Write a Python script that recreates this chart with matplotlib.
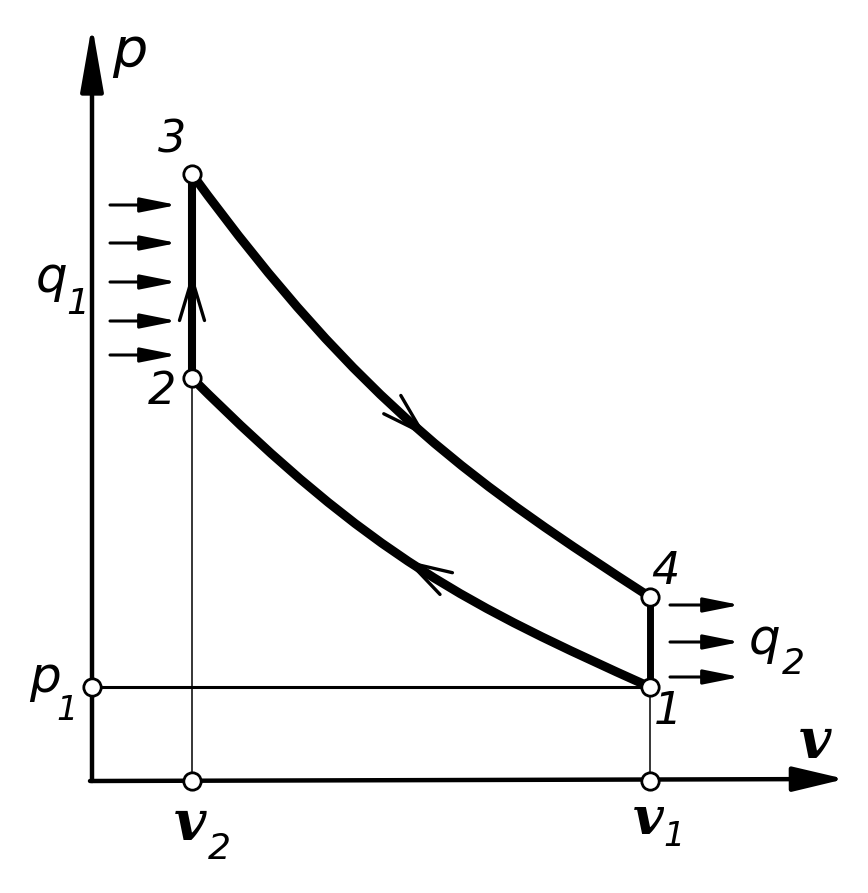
import matplotlib
matplotlib.use("Agg")
import matplotlib.pyplot as plt
from matplotlib.path import Path
from matplotlib.patches import PathPatch

# state points of the cycle (v, p), drawing units
v1 = 558
v2 = 100
p1 = 94
point_v = [v1, v2, v2, v1]
point_p = [94, 403, 607, 184]
point_names = ["1", "2", "3", "4"]

# expansion 3 -> 4 as a cubic curve: end, control, control, end
exp_v = [100, 270, 388, 558]
exp_p = [607, 374, 294, 184]

# compression 2 <- 1 as a cubic curve
comp_v = [100, 280, 378, 558]
comp_p = [403, 223, 175, 94]

# heat arrows
q1_p = [576, 538, 499, 460, 426]
q1_v = (18, 85)
q2_p = [176, 139, 104]
q2_v = (578, 648)

# direction arrows on the cycle: (tail, tip)
flow_arrows = [((305, 372), (335, 344)),
               ((348, 201), (313, 221)),
               ((100, 470), (100, 508))]

fig = plt.figure(figsize=(8.68, 8.93), dpi=100)
ax = fig.add_axes([0, 0, 1, 1])
ax.set_xlim(-92, 776)
ax.set_ylim(-112, 781)
ax.axis('off')

font = dict(family='DejaVu Sans', style='italic', color='k')

# axes with arrows
ax.annotate('', xy=(0, 756), xytext=(0, 0),
            arrowprops=dict(arrowstyle='-|>,head_length=2.0,head_width=0.35', lw=3.2,
                            color='k', shrinkA=0, shrinkB=0, mutation_scale=20))
ax.annotate('', xy=(753, 2), xytext=(-2, 0),
            arrowprops=dict(arrowstyle='-|>,head_length=1.6,head_width=0.38', lw=3.2,
                            color='k', shrinkA=0, shrinkB=0, mutation_scale=20))

# helper lines
ax.plot([0, v1], [p1, p1], color='k', lw=2.2)
ax.plot([v2, v2], [0, point_p[1]], color='k', lw=1.1)
ax.plot([v1, v1], [0, point_p[0]], color='k', lw=1.1)

# cycle
codes = [Path.MOVETO, Path.CURVE4, Path.CURVE4, Path.CURVE4]
for cv, cp in [(exp_v, exp_p), (comp_v, comp_p)]:
    path = Path(list(zip(cv, cp)), codes)
    ax.add_patch(PathPatch(path, fill=False, lw=6.5, edgecolor='k', capstyle='round'))
ax.plot([v2, v2], [point_p[1], point_p[2]], color='k', lw=5.8)
ax.plot([v1, v1], [point_p[0], point_p[3]], color='k', lw=5.0)

for tail, tip in flow_arrows:
    ax.annotate('', xy=tip, xytext=tail,
                arrowprops=dict(arrowstyle='->,head_length=1.5,head_width=0.45', lw=2.4,
                                color='k', shrinkA=0, shrinkB=0, mutation_scale=20))

for p in q1_p:
    ax.annotate('', xy=(q1_v[1], p), xytext=(q1_v[0], p),
                arrowprops=dict(arrowstyle='-|>,head_length=1.1,head_width=0.22', lw=2.2,
                                color='k', shrinkA=0, shrinkB=0, mutation_scale=20))
for p in q2_p:
    ax.annotate('', xy=(q2_v[1], p), xytext=(q2_v[0], p),
                arrowprops=dict(arrowstyle='-|>,head_length=1.1,head_width=0.22', lw=2.2,
                                color='k', shrinkA=0, shrinkB=0, mutation_scale=20))

# markers
ax.plot(point_v, point_p, 'o', ms=12.5, mfc='white', mec='k', mew=2.0, zorder=5)
ax.plot([0, v2, v1], [p1, 0, 0], 'o', ms=12.5, mfc='white', mec='k', mew=2.0, zorder=5)

# labels
ax.text(38, 729, 'p', fontsize=40, ha='center', va='center', **font)
label_pos = {"1": (576, 69), "2": (70, 390), "3": (80, 641), "4": (573, 209)}
for name in point_names:
    x, y = label_pos[name]
    ax.text(x, y, name, fontsize=32, ha='center', va='center', **font)

ax.text(-40, 503, 'q', fontsize=36, ha='center', va='center', **font)
ax.text(-14, 477, '1', fontsize=26, ha='center', va='center', **font)
ax.text(673, 141, 'q', fontsize=36, ha='center', va='center', **font)
ax.text(701, 117, '2', fontsize=26, ha='center', va='center', **font)
ax.text(-47, 103, 'p', fontsize=36, ha='center', va='center', **font)
ax.text(-25, 71, '1', fontsize=24, ha='center', va='center', **font)

vfont = dict(family='DejaVu Serif', style='italic', weight='bold', color='k')
ax.text(723, 39, 'v', fontsize=40, ha='center', va='center', **vfont)
ax.text(556, -39, 'v', fontsize=38, ha='center', va='center', **vfont)
ax.text(582, -56, '1', fontsize=24, ha='center', va='center', **font)
ax.text(98, -43, 'v', fontsize=40, ha='center', va='center', **vfont)
ax.text(127, -68, '2', fontsize=26, ha='center', va='center', **font)

fig.savefig('out.png', dpi=100)
